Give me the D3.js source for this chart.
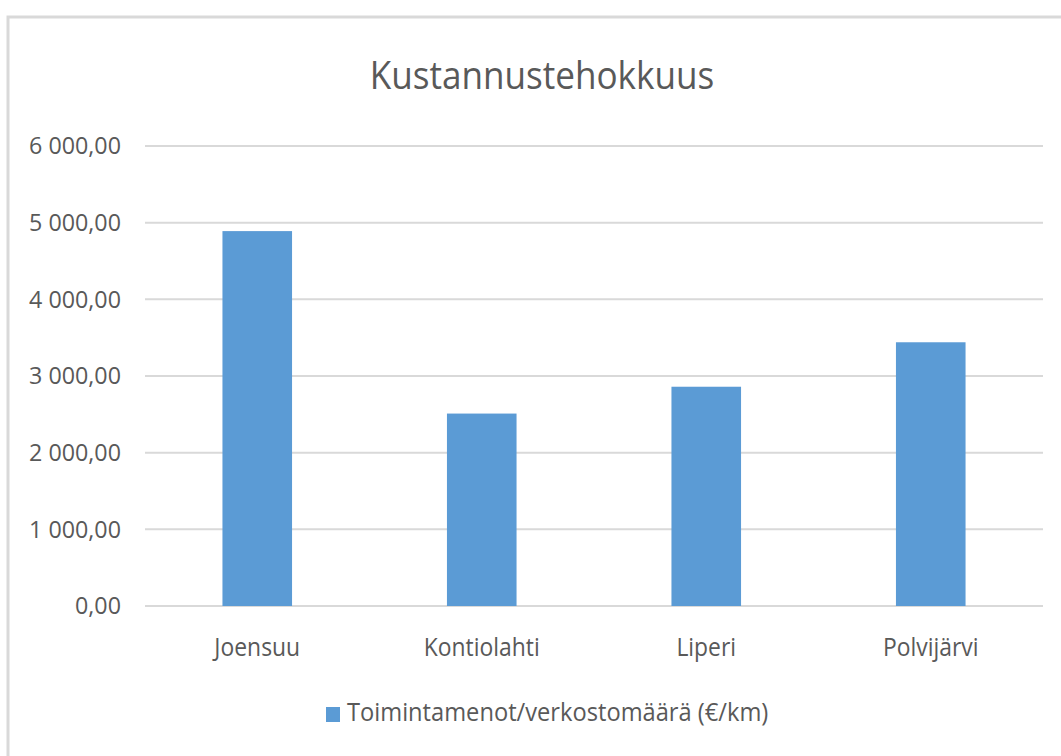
<!DOCTYPE html>
<html>
<head>
<meta charset="utf-8">
<script src="https://cdn.jsdelivr.net/npm/d3@7"></script>
<style>
  body { margin: 0; background: #fff; }
  text { font-family: "Open Sans", sans-serif; fill: #595959; }
</style>
</head>
<body>
<script>
// data
const categories = ["Joensuu", "Kontiolahti", "Liperi", "Polvijärvi"];
const values = [4890, 2510, 2860, 3440];
const yTicks = [0, 1000, 2000, 3000, 4000, 5000, 6000];
const seriesName = "Toimintamenot/verkostomäärä (€/km)";
const chartTitle = "Kustannustehokkuus";

let width = 1061;
let height = 756;
let plotLeft = 145, plotRight = 1043, plotTop = 146, plotBottom = 606;
let barColor = "#5b9bd5";

const fmt = d => d3.format(",.2f")(d).replace(/,/g, " ").replace(".", ",");

// narrow the text a bit, the original font is condensed
function squeeze(sel, factor) {
  sel.each(function() {
    const len = this.getComputedTextLength();
    d3.select(this)
      .attr("textLength", len * factor)
      .attr("lengthAdjust", "spacingAndGlyphs");
  });
}

const svg = d3.select("body")
  .append("svg")
  .attr("width", width)
  .attr("height", height);

// chart frame
svg.append("rect")
  .attr("x", 8).attr("y", 17)
  .attr("width", width + 10).attr("height", height + 10)
  .attr("fill", "#fff")
  .attr("stroke", "#d9d9d9")
  .attr("stroke-width", 3);

let x = d3.scaleBand()
  .domain(categories)
  .range([plotLeft, plotRight])
  .paddingInner(0.69)
  .paddingOuter(0.345);

let y = d3.scaleLinear()
  .domain([0, 6000])
  .range([plotBottom, plotTop]);

// gridlines
svg.append("g")
  .selectAll("line")
  .data(yTicks)
  .join("line")
    .attr("x1", plotLeft).attr("x2", plotRight)
    .attr("y1", d => y(d)).attr("y2", d => y(d))
    .attr("stroke", "#d9d9d9")
    .attr("stroke-width", 2);

// y labels
svg.append("g")
  .selectAll("text")
  .data(yTicks)
  .join("text")
    .attr("x", 121)
    .attr("y", d => y(d))
    .attr("dy", "0.35em")
    .attr("text-anchor", "end")
    .style("font-size", "24px")
    .text(d => fmt(d))
    .call(squeeze, 0.97);

// bars
svg.append("g")
  .selectAll("rect")
  .data(values)
  .join("rect")
    .attr("x", (d, i) => x(categories[i]))
    .attr("y", d => y(d))
    .attr("width", x.bandwidth())
    .attr("height", d => y(0) - y(d))
    .attr("fill", barColor);

// x labels
svg.append("g")
  .selectAll("text")
  .data(categories)
  .join("text")
    .attr("x", d => x(d) + x.bandwidth() / 2)
    .attr("y", 647)
    .attr("dy", "0.35em")
    .attr("text-anchor", "middle")
    .style("font-size", "26px")
    .text(d => d)
    .call(squeeze, 0.88);

// title
svg.append("text")
  .attr("x", 542)
  .attr("y", 75)
  .attr("dy", "0.35em")
  .attr("text-anchor", "middle")
  .style("font-size", "39px")
  .text(chartTitle)
  .call(squeeze, 0.9);

// legend
const legend = svg.append("g");
legend.append("rect")
  .attr("x", 326).attr("y", 707)
  .attr("width", 14).attr("height", 15)
  .attr("fill", barColor);
legend.append("text")
  .attr("x", 347)
  .attr("y", 712)
  .attr("dy", "0.35em")
  .style("font-size", "26px")
  .text(seriesName)
  .call(squeeze, 0.91);
</script>
</body>
</html>
